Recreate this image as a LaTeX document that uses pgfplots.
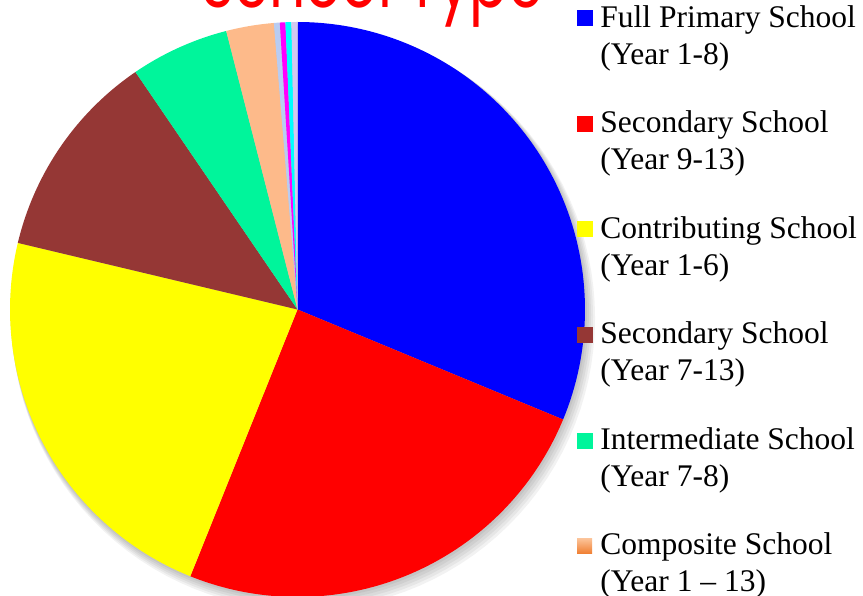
\documentclass[border=0pt]{standalone}
\usepackage{fontspec}
\setmainfont{Liberation Serif}
\newfontfamily\titlefont{Poppins}
\usepackage{pgfplots}
\pgfplotsset{compat=1.18}
\usepackage{pgfplotstable}

\definecolor{pblue}{HTML}{0000FF}
\definecolor{pred}{HTML}{FF0000}
\definecolor{pyellow}{HTML}{FFFF00}
\definecolor{pbrown}{HTML}{953735}
\definecolor{pgreen}{HTML}{00F59B}
\definecolor{porange}{HTML}{FDBA8A}
\definecolor{porangelight}{HTML}{FCC49A}
\definecolor{porangedark}{HTML}{F08033}
\definecolor{plightblue}{HTML}{B8CCF2}
\definecolor{pmagenta}{HTML}{FF00FF}
\definecolor{pcyan}{HTML}{00FFFF}
\definecolor{plavender}{HTML}{D2C8F0}

\pgfplotstableread{
label value color
FullPrimary 31.25 pblue
Secondary913 24.83 pred
Contributing 22.64 pyellow
Secondary713 11.75 pbrown
Intermediate 5.54 pgreen
Composite 2.68 porange
OtherA 0.33 plightblue
OtherB 0.31 pmagenta
OtherC 0.33 pcyan
OtherD 0.34 plavender
}\schooldata

\begin{document}
\begin{tikzpicture}
\begin{axis}[
  at={(0pt,0pt)}, anchor=south west,
  scale only axis, width=863pt, height=596pt,
  xmin=-1.0348, xmax=1.9670, ymin=-0.99652, ymax=1.07652,
  hide axis, clip=false,
  legend style={
    at={(0.6686,0.9913)}, anchor=north west,
    draw=none, fill=none, inner sep=0pt, outer sep=0pt,
    font=\fontsize{31.5pt}{37pt}\selectfont,
    cells={anchor=west, align=left},
    nodes={inner sep=0pt, text depth={}},
    row sep=40pt, column sep=8pt,
  },
]
% soft shadow
\pgfplotsinvokeforeach{1,2,3,4,5}{
  \addplot[forget plot, draw=none, fill=black, fill opacity=0.05,
    domain=0:360, samples=120]
    ({0.004*#1+(1+0.003*#1)*cos(x)},{-0.006*#1+(1+0.003*#1)*sin(x)}) -- cycle;
}
% slices
\def\cum{0}
\pgfplotsforeachungrouped \i in {0,...,9}{%
  \pgfplotstablegetelem{\i}{value}\of\schooldata
  \let\val\pgfplotsretval
  \pgfplotstablegetelem{\i}{color}\of\schooldata
  \let\col\pgfplotsretval
  \pgfmathsetmacro{\angB}{90-3.6*\cum}%
  \pgfmathsetmacro{\cum}{\cum+\val}%
  \pgfmathsetmacro{\angA}{90-3.6*\cum}%
  \edef\doplot{\noexpand\addplot[forget plot, draw=none, fill=\col,
    domain=\angA:\angB, samples=100] ({cos(x)},{sin(x)}) -- (axis cs:0,0) -- cycle;}%
  \doplot
}
\addlegendimage{legend image code/.code={\fill[pblue] (0pt,12.5pt) rectangle (15pt,27.5pt);}}
\addlegendimage{legend image code/.code={\fill[pred] (0pt,12.5pt) rectangle (15pt,27.5pt);}}
\addlegendimage{legend image code/.code={\fill[pyellow] (0pt,12.5pt) rectangle (15pt,27.5pt);}}
\addlegendimage{legend image code/.code={\fill[pbrown] (0pt,12.5pt) rectangle (15pt,27.5pt);}}
\addlegendimage{legend image code/.code={\fill[pgreen] (0pt,12.5pt) rectangle (15pt,27.5pt);}}
\addlegendimage{legend image code/.code={\shade[draw=none, top color=porangelight, bottom color=porangedark] (0pt,12.5pt) rectangle (15pt,27.5pt);}}
\legend{{Full Primary School\\(Year 1-8)},
        {Secondary School\\(Year 9-13)},
        {Contributing School\\(Year 1-6)},
        {Secondary School\\(Year 7-13)},
        {Intermediate School\\(Year 7-8)},
        {Composite School\\(Year 1 -- 13)}}
\end{axis}
\node[anchor=base, text=red, inner sep=0pt] at (372.5pt,588pt)
  {\scalebox{1}[1.35]{\resizebox{342pt}{!}{\titlefont School Type}}};
\pgfresetboundingbox
\useasboundingbox (0pt,0pt) rectangle (863pt,596pt);
\end{tikzpicture}
\end{document}
